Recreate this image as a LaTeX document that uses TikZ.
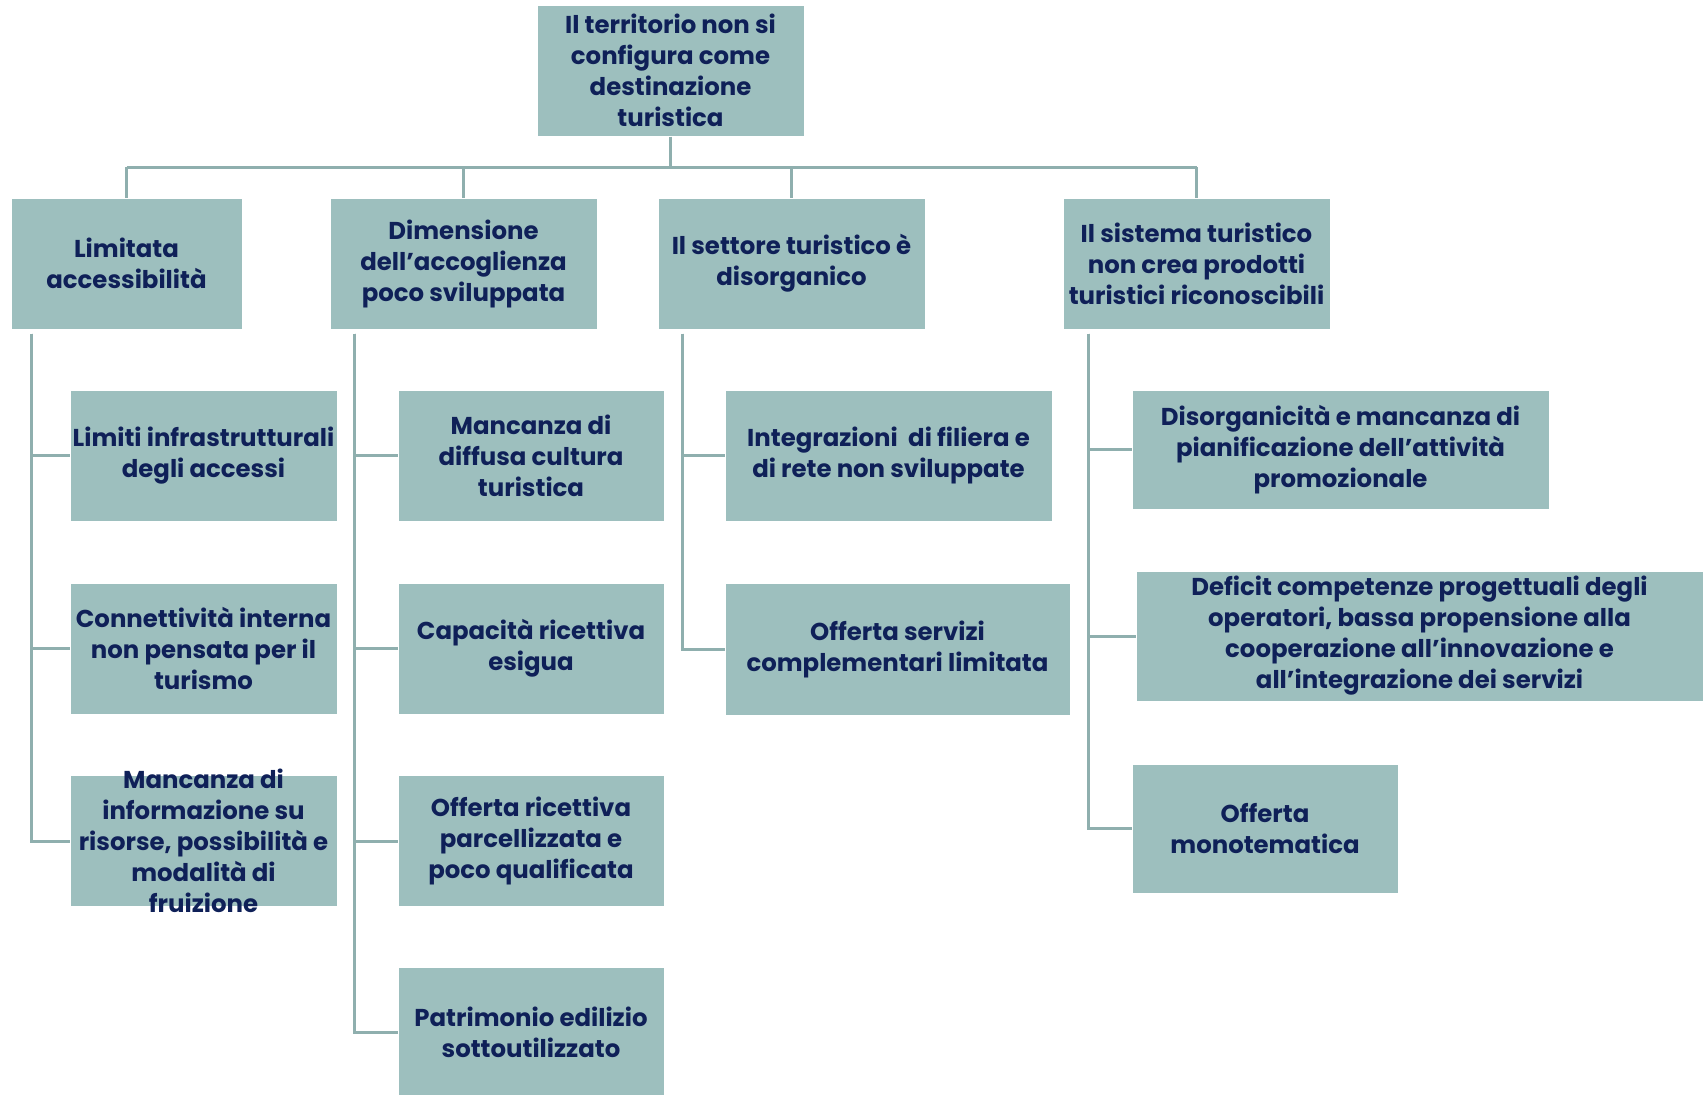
\documentclass[tikz,border=0pt]{standalone}
\usepackage{fontspec}
\setmainfont{Poppins}
\definecolor{boxfill}{HTML}{9DBFBE}
\definecolor{txt}{HTML}{0F2058}
\definecolor{linec}{HTML}{8FAFAE}
\begin{document}
\begin{tikzpicture}[x=0.5pt,y=-0.5pt,
  boxtext/.style={text=txt, align=center,
    font=\fontsize{12.2}{15.5}\selectfont\bfseries, inner sep=1pt},
  box/.style={fill=boxfill, draw=white, line width=0.5pt, boxtext},
  conn/.style={draw=linec, line width=1.5pt}]
\useasboundingbox (0,0) rectangle (1708,1094);
% root
\node[box, minimum width=133.5pt, minimum height=65.5pt] (root) at (670.5,70.5)
  {Il territorio non si\\configura come\\destinazione\\turistica};
% level 1
\node[box, minimum width=115.5pt, minimum height=65.5pt] (A) at (126.5,263.5)
  {Limitata\\accessibilità};
\node[box, minimum width=133.5pt, minimum height=65.5pt] (B) at (463.5,263.5)
  {Dimensione\\dell’accoglienza\\poco sviluppata};
\node[box, minimum width=133.5pt, minimum height=65.5pt] (C) at (791.5,263.5)
  {Il settore turistico è\\disorganico};
\node[box, minimum width=133.5pt, minimum height=65.5pt] (D) at (1196.5,263.5)
  {Il sistema turistico\\non crea prodotti\\turistici riconoscibili};
% column A
\node[box, minimum width=133.5pt, minimum height=65.5pt] (A1) at (203.5,455.5)
  {Limiti infrastrutturali\\degli accessi};
\node[box, minimum width=133.5pt, minimum height=65.5pt] (A2) at (203.5,648.5)
  {Connettività interna\\non pensata per il\\turismo};
\node[box, minimum width=133.5pt, minimum height=65.5pt] (A3) at (203.5,841) {};
\node[boxtext] (A3t) at (A3.center)
  {Mancanza di\\informazione su\\risorse, possibilità e\\modalità di\\fruizione};
% column B
\node[box, minimum width=133pt, minimum height=65.5pt] (B1) at (531,455.5)
  {Mancanza di\\diffusa cultura\\turistica};
\node[box, minimum width=133pt, minimum height=65.5pt] (B2) at (531,648.5)
  {Capacità ricettiva\\esigua};
\node[box, minimum width=133pt, minimum height=65.5pt] (B3) at (531,841)
  {Offerta ricettiva\\parcellizzata e\\poco qualificata};
\node[box, minimum width=133pt, minimum height=65.5pt] (B4) at (531,1032.5)
  {Patrimonio edilizio\\sottoutilizzato};
% column C
\node[box, minimum width=163.5pt, minimum height=65.5pt] (C1) at (888.5,455.5)
  {Integrazioni\ \ di filiera e\\di rete non sviluppate};
\node[box, minimum width=172.5pt, minimum height=66pt] (C2) at (897.5,649)
  {Offerta servizi\\complementari limitata};
% column D
\node[box, minimum width=208.5pt, minimum height=59.5pt] (D1) at (1340.5,449.5)
  {Disorganicità e mancanza di\\pianificazione dell'attività\\promozionale};
\node[box, minimum width=283.5pt, minimum height=65pt] (D2) at (1419.5,636)
  {Deficit competenze progettuali degli\\operatori, bassa propensione alla\\cooperazione all’innovazione e\\all’integrazione dei servizi};
\node[box, minimum width=133pt, minimum height=64.5pt] (D3) at (1265,828.5)
  {Offerta\\monotematica};
% bus
\coordinate (busY) at (0,167);
\draw[conn] (root.south) -- (root.south |- busY);
\draw[conn] (A.north |- busY) -- (D.north |- busY);
\foreach \n in {A,B,C,D} \draw[conn] (\n.north |- busY) -- (\n.north);
% spines
\draw[conn] ([xshift=10.5pt,yshift=-2pt]A.south west) |- (A1.west);
\draw[conn] ([xshift=10.5pt,yshift=-2pt]A.south west) |- (A2.west);
\draw[conn] ([xshift=10.5pt,yshift=-2pt]A.south west) |- (A3.west);
\draw[conn] ([xshift=12.5pt,yshift=-2pt]B.south west) |- (B1.west);
\draw[conn] ([xshift=12.5pt,yshift=-2pt]B.south west) |- (B2.west);
\draw[conn] ([xshift=12.5pt,yshift=-2pt]B.south west) |- (B3.west);
\draw[conn] ([xshift=12.5pt,yshift=-2pt]B.south west) |- (B4.west);
\draw[conn] ([xshift=12.5pt,yshift=-2pt]C.south west) |- (C1.west);
\draw[conn] ([xshift=12.5pt,yshift=-2pt]C.south west) |- (C2.west);
\draw[conn] ([xshift=13pt,yshift=-2pt]D.south west) |- (D1.west);
\draw[conn] ([xshift=13pt,yshift=-2pt]D.south west) |- (D2.west);
\draw[conn] ([xshift=13pt,yshift=-2pt]D.south west) |- (D3.west);
\end{tikzpicture}
\end{document}
